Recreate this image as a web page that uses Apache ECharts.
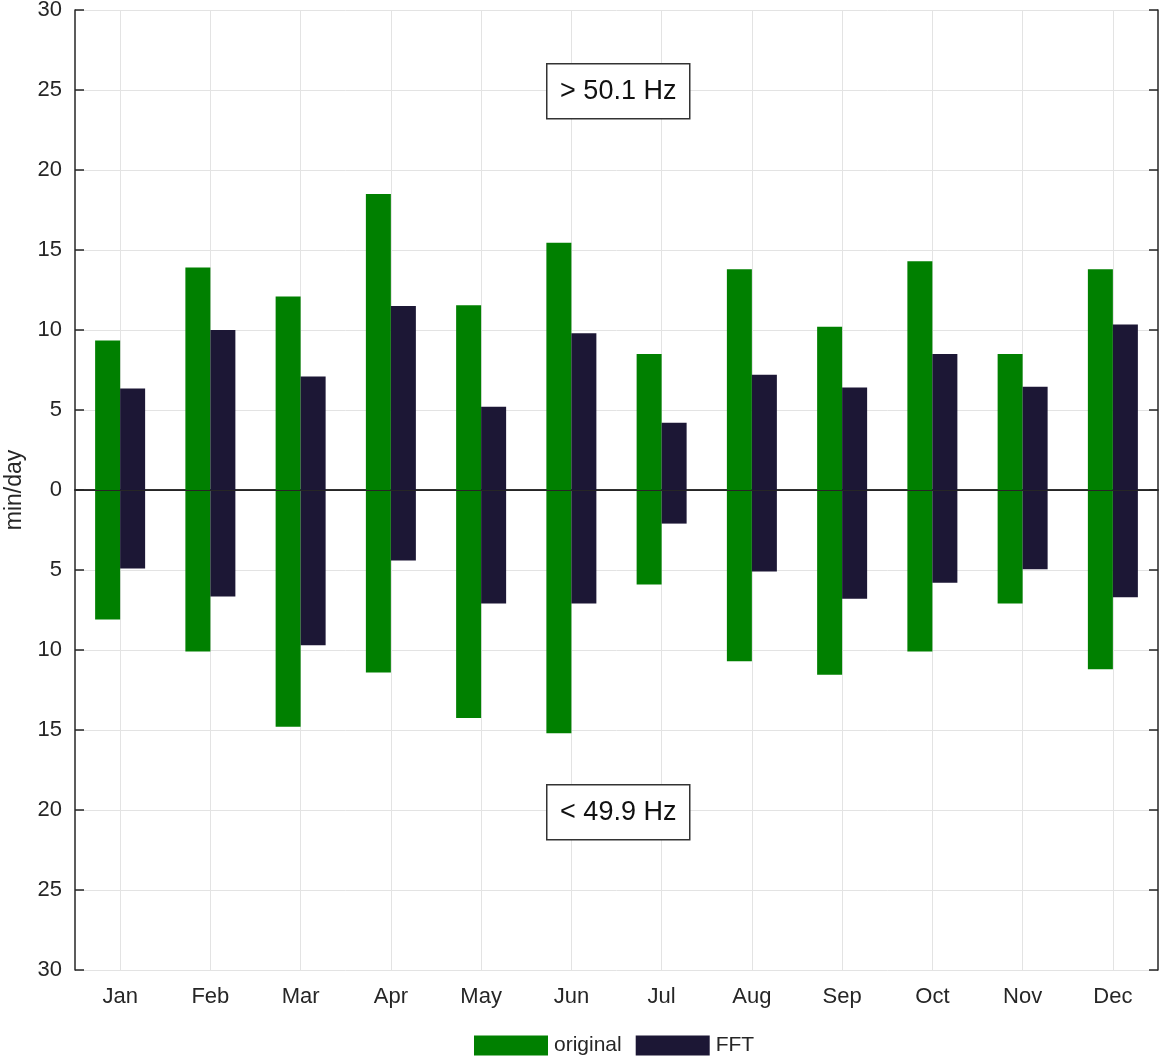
<!DOCTYPE html>
<html>
<head>
<meta charset="UTF-8">
<title>min/day</title>
<script src="https://cdn.jsdelivr.net/npm/echarts@6/dist/echarts.min.js"></script>
<style>
  html, body { margin: 0; padding: 0; background: #fff; }
  #main { width: 1160px; height: 1063px; }
</style>
</head>
<body>
<div id="main"></div>
<script>
// data (min/day)
var months = ['Jan', 'Feb', 'Mar', 'Apr', 'May', 'Jun', 'Jul', 'Aug', 'Sep', 'Oct', 'Nov', 'Dec'];
var origUp   = [9.35, 13.9, 12.1, 18.5, 11.55, 15.45, 8.5, 13.8, 10.2, 14.3, 8.5, 13.8];
var origDown = [-8.1, -10.1, -14.8, -11.4, -14.25, -15.2, -5.9, -10.7, -11.55, -10.1, -7.1, -11.2];
var fftUp    = [6.35, 10.0, 7.1, 11.5, 5.2, 9.8, 4.2, 7.2, 6.4, 8.5, 6.45, 10.35];
var fftDown  = [-4.9, -6.65, -9.7, -4.4, -7.1, -7.1, -2.1, -5.1, -6.8, -5.8, -4.95, -6.7];

var green = '#008000';
var navy = '#1c1735';
var font = 'Liberation Sans, Arial, sans-serif';
var ink = '#262626';

var chart = echarts.init(document.getElementById('main'));

// boxed annotation (text label with white fill)
function noteBox(txt, x, y) {
    return {
        type: 'group',
        left: x, top: y,
        children: [{
            type: 'rect',
            z: 100,
            shape: { x: 0, y: 0, width: 143, height: 55 },
            style: { fill: '#fff', stroke: '#333', lineWidth: 1.5 }
        }, {
            type: 'text',
            z: 101,
            x: 71.5, y: 28,
            style: {
                text: txt,
                font: '27px ' + font,
                fill: '#111',
                textAlign: 'center',
                textVerticalAlign: 'middle'
            }
        }]
    };
}

var option = {
    animation: false,
    textStyle: { fontFamily: font },
    grid: { left: 75, right: 2, top: 10, bottom: 93, outerBoundsMode: 'none', containLabel: false },
    legend: {
        data: ['original', 'FFT'],
        bottom: 2,
        left: 469,
        itemWidth: 74,
        itemHeight: 20,
        itemGap: 14,
        icon: 'rect',
        textStyle: { fontSize: 21, color: ink, padding: [0, 0, 0, 1] }
    },
    xAxis: [{
        type: 'category',
        data: months,
        position: 'bottom',
        axisLine: { lineStyle: { color: ink, width: 1.5 } },
        axisTick: { inside: true, alignWithLabel: true, length: 9, lineStyle: { color: ink, width: 1.5 } },
        axisLabel: { fontSize: 22, color: ink, margin: 16 },
        splitLine: { show: true, alignWithLabel: true, lineStyle: { color: '#e3e3e3', width: 1 } }
    }, {
        type: 'category',
        data: months,
        position: 'top',
        axisLine: { lineStyle: { color: ink, width: 1.5 } },
        axisTick: { inside: true, alignWithLabel: true, length: 9, lineStyle: { color: ink, width: 1.5 } },
        axisLabel: { show: false },
        splitLine: { show: false }
    }],
    yAxis: [{
        type: 'value',
        min: -30, max: 30, interval: 5,
        position: 'left',
        name: 'min/day',
        nameLocation: 'middle',
        nameGap: 45,
        nameTextStyle: { fontSize: 23, color: ink },
        axisLine: { show: true, lineStyle: { color: ink, width: 1.5 } },
        axisTick: { show: true, inside: true, length: 9, lineStyle: { color: ink, width: 1.5 } },
        axisLabel: {
            fontSize: 22, color: ink, margin: 13,
            formatter: function (v) { return Math.abs(v); }
        },
        splitLine: { show: true, lineStyle: { color: '#e3e3e3', width: 1 } }
    }, {
        type: 'value',
        min: -30, max: 30, interval: 5,
        position: 'right',
        axisLine: { show: true, lineStyle: { color: ink, width: 1.5 } },
        axisTick: { show: true, inside: true, length: 9, lineStyle: { color: ink, width: 1.5 } },
        axisLabel: { show: false },
        splitLine: { show: false }
    }],
    series: [{
        name: 'original',
        type: 'bar',
        stack: 'orig',
        data: origUp,
        barWidth: 25,
        barGap: '0%',
        itemStyle: { color: green },
        markLine: {
            silent: true,
            symbol: 'none',
            label: { show: false },
            lineStyle: { color: ink, width: 1, type: 'solid' },
            data: [{ yAxis: 0 }]
        }
    }, {
        name: 'original',
        type: 'bar',
        stack: 'orig',
        data: origDown,
        barWidth: 25,
        barGap: '0%',
        itemStyle: { color: green }
    }, {
        name: 'FFT',
        type: 'bar',
        stack: 'fft',
        data: fftUp,
        barWidth: 25,
        barGap: '0%',
        itemStyle: { color: navy }
    }, {
        name: 'FFT',
        type: 'bar',
        stack: 'fft',
        data: fftDown,
        barWidth: 25,
        barGap: '0%',
        itemStyle: { color: navy }
    }],
    graphic: [
        noteBox('> 50.1 Hz', 546, 63),
        noteBox('< 49.9 Hz', 546, 784)
    ]
};

chart.setOption(option);
</script>
</body>
</html>
